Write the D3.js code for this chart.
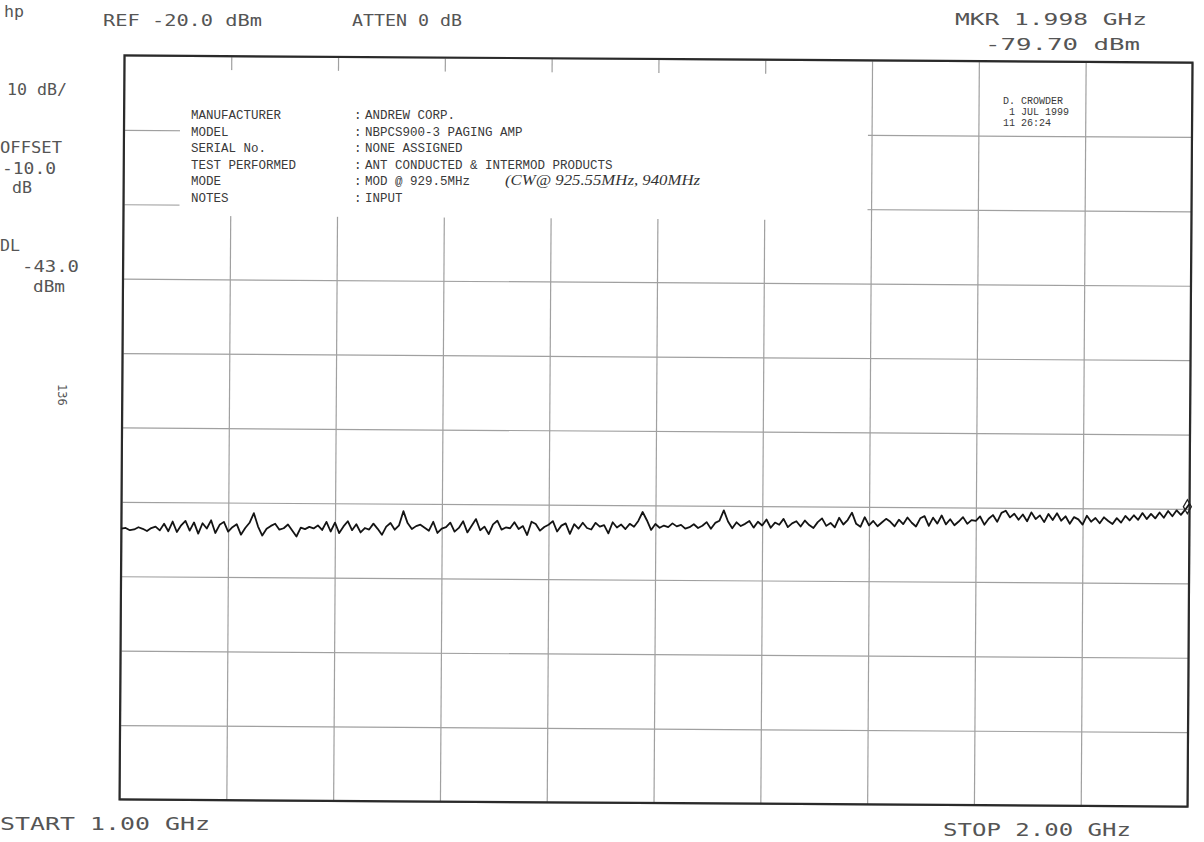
<!DOCTYPE html>
<html>
<head>
<meta charset="utf-8">
<script src="https://cdn.jsdelivr.net/npm/d3@7/dist/d3.min.js"></script>
<style>
  html, body { margin: 0; padding: 0; background: #fff; }
  svg { display: block; }
  .plot-text { font-family: "DejaVu Sans Mono", monospace; fill: #555; }
  .note-text { font-family: "Liberation Mono", monospace; fill: #3a3a3a; }
</style>
</head>
<body>
<svg id="chart" width="1204" height="842"></svg>
<script>
// Sweep settings
const startGHz = 1.0;
const stopGHz = 2.0;
const refLevelDbm = -20;
const bottomLevelDbm = -120;

// Graticule divisions (10 x 10)
const freqTicks = [1.0, 1.1, 1.2, 1.3, 1.4, 1.5, 1.6, 1.7, 1.8, 1.9, 2.0];
const levelTicks = [-20, -30, -40, -50, -60, -70, -80, -90, -100, -110, -120];

// Trace amplitude (dBm), 251 sweep points from 1.00 to 2.00 GHz
const traceDbm = [
  -83.6, -83.5, -83.8, -83.7, -83.4, -83.6, -83.9, -83.5, -83.3, -83.8,
  -82.9, -83.9, -82.6, -84.0, -83.1, -82.5, -83.8, -82.7, -84.2, -82.8,
  -83.5, -82.4, -84.1, -83.0, -82.6, -83.9, -83.3, -82.9, -84.3, -83.4,
  -82.7, -81.4, -83.2, -84.4, -83.5, -83.1, -82.8, -83.6, -83.4, -82.9,
  -83.7, -84.5, -83.3, -83.5, -83.2, -83.4, -83.0, -83.6, -82.5, -83.8,
  -82.6, -84.0, -83.1, -82.4, -83.6, -82.8, -83.9, -83.3, -83.5, -82.7,
  -83.4, -84.2, -83.1, -82.6, -83.5, -82.9, -81.0, -82.6, -83.4, -83.0,
  -82.8, -83.2, -83.6, -82.4, -83.9, -83.3, -83.1, -82.5, -83.7, -83.2,
  -82.3, -83.8, -82.9, -82.0, -83.5, -83.0, -84.0, -82.7, -82.2, -83.4,
  -83.1, -83.2, -82.4, -83.3, -82.9, -84.1, -82.3, -82.6, -83.5, -83.0,
  -82.7, -82.2, -83.6, -82.8, -82.5, -83.9, -82.6, -83.2, -82.4, -83.1,
  -83.3, -82.4, -82.9, -82.7, -83.8, -82.3, -83.0, -82.6, -83.2, -82.5,
  -82.9, -82.1, -80.9, -82.0, -83.3, -82.5, -83.0, -82.7, -82.9, -82.4,
  -82.8, -82.6, -83.1, -82.9, -82.5, -83.0, -82.7, -82.2, -83.1, -82.3,
  -82.0, -80.6, -82.1, -83.0, -82.2, -82.7, -82.4, -82.0, -82.9, -82.1,
  -82.6, -81.8, -82.9, -82.2, -82.5, -81.7, -82.8, -82.3, -82.0, -82.7,
  -81.9, -82.5, -82.9, -82.1, -81.6, -82.6, -82.2, -82.8, -81.5, -82.4,
  -81.8, -80.8, -82.3, -82.7, -81.4, -82.5, -81.9, -82.6, -82.1, -81.6,
  -82.0, -82.6, -81.7, -82.3, -81.4, -82.1, -82.6, -81.5, -81.2, -82.5,
  -81.4, -82.2, -81.1, -82.3, -81.6, -82.4, -81.9, -81.3, -82.2, -81.7,
  -81.8, -81.2, -82.3, -81.5, -81.0, -81.9, -80.7, -80.4, -81.3, -80.8,
  -81.6, -80.9, -81.8, -80.6, -81.5, -81.0, -81.9, -80.8, -81.6, -80.7,
  -81.7, -81.1, -82.1, -81.2, -81.5, -82.2, -81.0, -81.8, -81.3, -82.0,
  -81.2, -81.7, -82.1, -81.3, -81.9, -81.0, -81.6, -80.9, -81.5, -80.6,
  -81.4, -80.7, -81.3, -80.5, -81.2, -80.3, -81.0, -80.2, -80.8, -80.1,
  -79.3
];

// Marker readout
const markerGHz = 1.998;
const markerDbm = -79.70;

// Test record block
const recordLabels = ["MANUFACTURER", "MODEL", "SERIAL No.", "TEST PERFORMED", "MODE", "NOTES"];
const recordValues = ["ANDREW CORP.", "NBPCS900-3 PAGING AMP", "NONE ASSIGNED",
                      "ANT CONDUCTED & INTERMOD PRODUCTS", "MOD @ 929.5MHz", "INPUT"];
const operatorLines = ["D. CROWDER", " 1 JUL 1999", "11 26:24"];

(function draw() {
  const svg = d3.select("#chart");

  // Graticule box
  const boxL = 122, boxR = 1190, boxT = 59, boxB = 803;
  const x = d3.scaleLinear().domain([startGHz, stopGHz]).range([boxL, boxR]);
  const y = d3.scaleLinear().domain([refLevelDbm, bottomLevelDbm]).range([boxT, boxB]);

  // The plotted sheet sits a little askew on the page
  const sheet = svg.append("g").attr("transform", "rotate(0.38, 656, 431)");

  // Grid lines through the axis generators
  const gridX = sheet.append("g")
    .attr("transform", `translate(0,${boxB})`)
    .call(d3.axisBottom(x).tickValues(freqTicks).tickSize(-(boxB - boxT)).tickFormat(""));
  const gridY = sheet.append("g")
    .attr("transform", `translate(${boxL},0)`)
    .call(d3.axisLeft(y).tickValues(levelTicks).tickSize(-(boxR - boxL)).tickFormat(""));
  [gridX, gridY].forEach(g => {
    g.select(".domain").remove();
    g.selectAll(".tick line").attr("stroke", "#a0a0a0").attr("stroke-width", 1.2);
  });

  // Record block is printed on a blank patch over the grid
  sheet.append("rect")
    .attr("x", 178).attr("y", 73)
    .attr("width", 688).attr("height", 146)
    .attr("fill", "#fff");

  // Outer frame
  sheet.append("rect")
    .attr("x", boxL).attr("y", boxT)
    .attr("width", boxR - boxL).attr("height", boxB - boxT)
    .attr("fill", "none").attr("stroke", "#2a2a2a").attr("stroke-width", 2.2);

  // Trace
  const line = d3.line()
    .x((d, i) => x(startGHz + i * (stopGHz - startGHz) / (traceDbm.length - 1)))
    .y(d => y(d));
  sheet.append("path")
    .datum(traceDbm)
    .attr("d", line)
    .attr("fill", "none")
    .attr("stroke", "#141414")
    .attr("stroke-width", 1.8)
    .attr("stroke-linejoin", "round");

  // Marker
  const mx = x(markerGHz), my = y(markerDbm);
  sheet.append("path")
    .attr("d", `M${mx},${my - 7} L${mx + 4},${my} L${mx},${my + 7} L${mx - 4},${my} Z`)
    .attr("fill", "none").attr("stroke", "#222").attr("stroke-width", 1.3);

  // Instrument annotation text
  function label(txt, px, py, size, len, cls) {
    const t = svg.append("text")
      .attr("class", cls || "plot-text")
      .attr("x", px).attr("y", py)
      .attr("font-size", size)
      .text(txt);
    if (len) t.attr("textLength", len).attr("lengthAdjust", "spacingAndGlyphs");
    return t;
  }

  label("hp", 4, 17, 15, 20);
  label("REF -20.0 dBm", 103, 26, 16, 159);
  label("ATTEN 0 dB", 352, 26, 16, 110);
  label("MKR 1.998 GHz", 955, 25, 16, 192);
  label("-79.70 dBm", 985, 50, 16, 155);

  label("10 dB/", 7, 95, 16, 60);
  label("OFFSET", 0, 153, 16, 62);
  label("-10.0", 2, 174, 16, 54);
  label("dB", 12, 193, 16, 20);
  label("DL", 0, 251, 16, 20);
  label("-43.0", 22, 272, 16, 57);
  label("dBm", 33, 292, 16, 32);

  svg.append("text")
    .attr("class", "plot-text")
    .attr("transform", "translate(58,384) rotate(90)")
    .attr("font-size", 12)
    .text("136");

  label("START 1.00 GHz", 0, 830, 17, 210);
  label("STOP 2.00 GHz", 943, 836, 17, 188);

  // Record block
  const rowY = [119, 136, 152, 169, 185, 202];
  recordLabels.forEach((d, i) => {
    label(d, 191, rowY[i], 12.5, null, "note-text");
    label(":", 354, rowY[i], 12.5, null, "note-text");
    label(recordValues[i], 365, rowY[i], 12.5, null, "note-text");
  });
  svg.append("text")
    .attr("x", 505).attr("y", rowY[4])
    .attr("font-family", "Liberation Serif, serif")
    .attr("font-style", "italic")
    .attr("font-size", 14)
    .attr("fill", "#333")
    .attr("textLength", 195).attr("lengthAdjust", "spacingAndGlyphs")
    .text("(CW@ 925.55MHz, 940MHz");

  operatorLines.forEach((d, i) => {
    svg.append("text")
      .attr("class", "note-text")
      .attr("x", 1003).attr("y", 104 + i * 11)
      .attr("font-size", 10)
      .style("white-space", "pre")
      .text(d);
  });
})();
</script>
</body>
</html>
